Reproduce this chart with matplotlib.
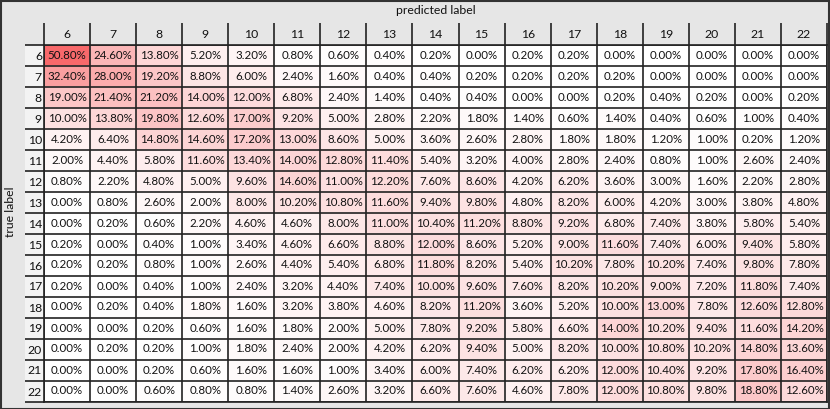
import numpy as np
import matplotlib.pyplot as plt
from matplotlib.colors import LinearSegmentedColormap
from matplotlib.patches import Rectangle

plt.rcParams["font.family"] = ["Lato", "DejaVu Sans"]

labels = list(range(6, 23))

# confusion matrix in percent, rows = true label, cols = predicted label
row_6 = [50.80, 24.60, 13.80, 5.20, 3.20, 0.80, 0.60, 0.40, 0.20, 0.00, 0.20, 0.20, 0.00, 0.00, 0.00, 0.00, 0.00]
row_7 = [32.40, 28.00, 19.20, 8.80, 6.00, 2.40, 1.60, 0.40, 0.40, 0.20, 0.20, 0.20, 0.20, 0.00, 0.00, 0.00, 0.00]
row_8 = [19.00, 21.40, 21.20, 14.00, 12.00, 6.80, 2.40, 1.40, 0.40, 0.40, 0.00, 0.00, 0.20, 0.40, 0.20, 0.00, 0.20]
row_9 = [10.00, 13.80, 19.80, 12.60, 17.00, 9.20, 5.00, 2.80, 2.20, 1.80, 1.40, 0.60, 1.40, 0.40, 0.60, 1.00, 0.40]
row_10 = [4.20, 6.40, 14.80, 14.60, 17.20, 13.00, 8.60, 5.00, 3.60, 2.60, 2.80, 1.80, 1.80, 1.20, 1.00, 0.20, 1.20]
row_11 = [2.00, 4.40, 5.80, 11.60, 13.40, 14.00, 12.80, 11.40, 5.40, 3.20, 4.00, 2.80, 2.40, 0.80, 1.00, 2.60, 2.40]
row_12 = [0.80, 2.20, 4.80, 5.00, 9.60, 14.60, 11.00, 12.20, 7.60, 8.60, 4.20, 6.20, 3.60, 3.00, 1.60, 2.20, 2.80]
row_13 = [0.00, 0.80, 2.60, 2.00, 8.00, 10.20, 10.80, 11.60, 9.40, 9.80, 4.80, 8.20, 6.00, 4.20, 3.00, 3.80, 4.80]
row_14 = [0.00, 0.20, 0.60, 2.20, 4.60, 4.60, 8.00, 11.00, 10.40, 11.20, 8.80, 9.20, 6.80, 7.40, 3.80, 5.80, 5.40]
row_15 = [0.20, 0.00, 0.40, 1.00, 3.40, 4.60, 6.60, 8.80, 12.00, 8.60, 5.20, 9.00, 11.60, 7.40, 6.00, 9.40, 5.80]
row_16 = [0.20, 0.20, 0.80, 1.00, 2.60, 4.40, 5.40, 6.80, 11.80, 8.20, 5.40, 10.20, 7.80, 10.20, 7.40, 9.80, 7.80]
row_17 = [0.20, 0.00, 0.40, 1.00, 2.40, 3.20, 4.40, 7.40, 10.00, 9.60, 7.60, 8.20, 10.20, 9.00, 7.20, 11.80, 7.40]
row_18 = [0.00, 0.20, 0.40, 1.80, 1.60, 3.20, 3.80, 4.60, 8.20, 11.20, 3.60, 5.20, 10.00, 13.00, 7.80, 12.60, 12.80]
row_19 = [0.00, 0.00, 0.20, 0.60, 1.60, 1.80, 2.00, 5.00, 7.80, 9.20, 5.80, 6.60, 14.00, 10.20, 9.40, 11.60, 14.20]
row_20 = [0.00, 0.20, 0.20, 1.00, 1.80, 2.40, 2.00, 4.20, 6.20, 9.40, 5.00, 8.20, 10.00, 10.80, 10.20, 14.80, 13.60]
row_21 = [0.00, 0.00, 0.20, 0.60, 1.60, 1.60, 1.00, 3.40, 6.00, 7.40, 6.20, 6.20, 12.00, 10.40, 9.20, 17.80, 16.40]
row_22 = [0.00, 0.00, 0.60, 0.80, 0.80, 1.40, 2.60, 3.20, 6.60, 7.60, 4.60, 7.80, 12.00, 10.80, 9.80, 18.80, 12.60]

cm = np.array([row_6, row_7, row_8, row_9, row_10, row_11, row_12, row_13, row_14,
               row_15, row_16, row_17, row_18, row_19, row_20, row_21, row_22])

W, H = 830, 409
fs = 8.3
fig = plt.figure(figsize=(W / 100, H / 100), dpi=100, facecolor="#e6e6e6")

# table area in pixels
x0, x1, y0, y1 = 44, 827, 44.5, 401.5
ax = fig.add_axes([x0 / W, 1 - y1 / H, (x1 - x0) / W, (y1 - y0) / H])

cmap = LinearSegmentedColormap.from_list("xl", ["#ffffff", "#f8696b"])
ax.imshow(cm, cmap=cmap, vmin=0, vmax=cm.max(), aspect="auto")

n = len(labels)
for i in range(n):
    for j in range(n):
        ax.text(j, i, f"{cm[i, j]:.2f}%", ha="center", va="center", fontsize=fs, color="#111111")

ax.xaxis.tick_top()
ax.set_xticks(range(n))
ax.set_xticklabels(labels)
ax.set_yticks(range(n))
ax.set_yticklabels(labels)
ax.tick_params(which="major", length=0, labelsize=8.8, labelcolor="#111111")
ax.tick_params(axis="x", which="major", pad=3.5)
ax.tick_params(axis="y", which="major", pad=1.5)

ax.set_xticks(np.arange(-0.5, n), minor=True)
ax.set_yticks(np.arange(-0.5, n), minor=True)
ax.tick_params(axis="x", which="minor", length=15.5, width=1.2, color="#222222", top=True, bottom=False)
ax.tick_params(axis="y", which="minor", length=13.5, width=1.2, color="#222222")
ax.grid(which="minor", color="#222222", linewidth=1.2)
ax.grid(which="major", visible=False)
for s in ax.spines.values():
    s.set_color("#222222")
    s.set_linewidth(1.2)

# row label column background
fig.add_artist(Rectangle((25 / W, 1 - y1 / H), (x0 - 25) / W, (y1 - y0) / H,
                         transform=fig.transFigure, facecolor="#f3f3f3", edgecolor="none", zorder=-1))

fig.text(436 / W, 1 - 10 / H, "predicted label", ha="center", va="center", fontsize=8.8, color="#111111")
fig.text(11 / W, 1 - 212 / H, "true label", ha="center", va="center", rotation=90, fontsize=8.8, color="#111111")

fig.add_artist(Rectangle((0.5 / W, 0.5 / H), (W - 1.5) / W, (H - 1.5) / H, transform=fig.transFigure,
                         facecolor="none", edgecolor="#333333", linewidth=1.5))

fig.savefig("out.png", dpi=100, facecolor=fig.get_facecolor())
plt.close(fig)
